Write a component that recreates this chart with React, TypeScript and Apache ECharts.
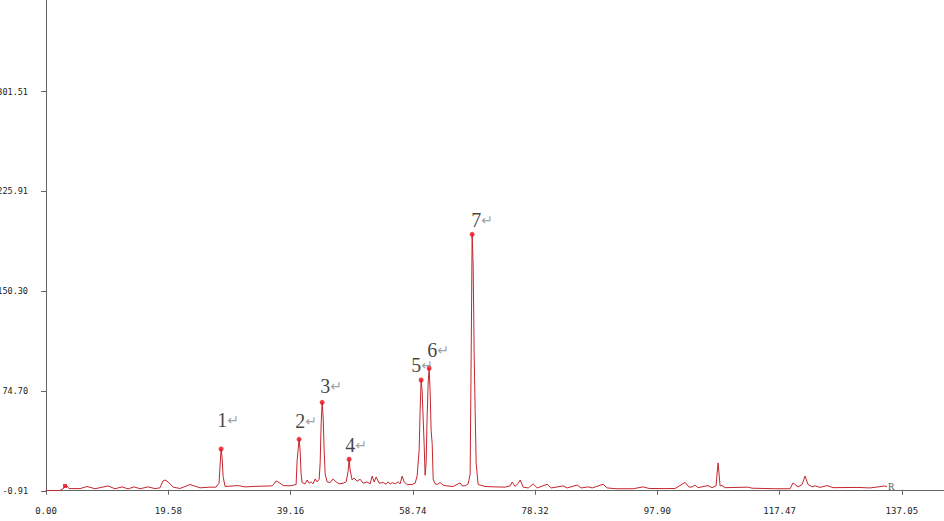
import React, { useEffect, useRef } from "react";
import * as echarts from "echarts";

// Chromatogram trace (retention time, response)
const traceX = [
  0.0, 2.24, 2.88, 3.04, 3.36, 3.68, 5.45, 6.57, 7.85, 9.93, 11.05, 12.18, 13.14, 14.1, 15.06, 16.34, 17.46, 18.26,
  18.74, 19.06, 19.55, 20.35, 21.47, 23.07, 24.67, 26.27, 27.23, 27.71, 27.87, 28.04, 28.2, 28.36, 28.68, 30.76,
  31.88, 33.48, 35.08, 36.25, 36.85, 37.33, 37.97, 39.09, 40.05, 40.21, 40.53, 40.69, 40.85, 41.01, 41.49, 41.81,
  42.13, 42.45, 42.77, 43.1, 43.42, 43.74, 43.9, 44.06, 44.22, 44.38, 44.54, 44.7, 45.02, 45.5, 45.98, 46.46, 46.94,
  47.58, 48.06, 48.38, 48.54, 48.7, 49.02, 49.34, 49.82, 50.3, 50.78, 51.43, 51.91, 52.23, 52.55, 52.87, 53.35,
  53.99, 54.47, 54.79, 55.11, 55.43, 55.91, 56.39, 56.71, 57.03, 57.35, 57.83, 58.63, 59.11, 59.43, 59.75, 59.91,
  60.07, 60.23, 60.55, 60.71, 60.87, 61.03, 61.19, 61.35, 61.51, 61.67, 61.84, 62.0, 62.32, 62.64, 63.12, 63.6,
  64.24, 65.2, 66.0, 66.32, 66.64, 67.12, 67.6, 67.92, 68.08, 68.24, 68.4, 68.56, 68.72, 68.88, 69.2, 70.32, 71.92,
  73.53, 74.33, 74.65, 75.13, 75.61, 75.93, 76.42, 77.22, 78.02, 78.66, 80.26, 80.9, 82.82, 83.46, 85.06, 85.7,
  86.82, 87.46, 89.22, 89.86, 91.3, 94.02, 95.62, 96.58, 99.14, 100.74, 102.34, 102.98, 103.46, 103.94, 104.42,
  106.02, 106.66, 107.3, 107.46, 107.62, 107.78, 107.94, 108.26, 108.74, 112.43, 113.07, 116.75, 119.15, 119.63,
  120.43, 121.07, 121.55, 122.03, 122.67, 123.15, 123.95, 125.07, 126.03, 130.03, 131.95, 134.35, 134.67,
];
const traceY = [
  -0.6, -0.6, 1.4, 2.9, 2.9, 0.9, 0.9, 2.5, 0.8, 2.9, 0.8, 2.2, 0.7, 2.2, 0.8, 2.2, 0.9, 1.5,
  6.7, 7.4, 6.0, 2.0, 1.0, 4.0, 1.5, 2.0, 2.0, 5.0, 18.0, 30.9, 24.0, 10.0, 2.5, 3.2,
  2.2, 2.6, 2.8, 3.0, 6.7, 5.5, 3.2, 3.0, 4.0, 22.0, 38.2, 30.0, 12.0, 5.5, 4.5, 7.4,
  5.0, 6.0, 4.5, 8.2, 6.0, 8.0, 20.0, 50.0, 66.2, 55.0, 30.0, 12.0, 6.0, 5.5, 8.2, 6.0, 4.5,
  5.0, 6.0, 14.0, 23.1, 15.0, 7.5, 8.9, 6.5, 8.0, 5.0, 5.9, 4.5, 10.4, 6.0, 9.7, 5.0,
  5.5, 4.2, 6.0, 4.3, 5.5, 4.5, 6.0, 4.5, 10.4, 6.0, 4.0, 4.0, 5.0, 10.4, 30.0, 60.0,
  83.1, 75.0, 35.0, 11.0, 20.0, 55.0, 80.0, 92.0, 75.0, 45.0, 35.0, 8.0, 4.5, 4.0, 5.5, 3.5,
  2.9, 2.5, 4.5, 5.2, 3.0, 3.0, 4.5, 12.0, 100.0, 193.4, 170.0, 103.6, 60.0, 20.0, 4.0, 2.5, 2.2,
  2.0, 3.0, 5.9, 2.5, 5.0, 7.4, 2.0, 1.4, 4.4, 1.4, 4.2, 1.4, 2.9, 1.4, 3.6, 1.4,
  2.2, 1.4, 4.2, 1.4, 0.8, 0.8, 2.2, 1.0, 0.9, 1.0, 5.6, 2.0, 2.2, 3.5, 1.6,
  3.2, 1.6, 3.0, 12.0, 20.3, 12.0, 3.0, 3.2, 1.6, 2.0, 1.2, 0.8, 0.8, 5.2,
  2.2, 4.0, 10.4, 4.0, 2.3, 3.0, 1.8, 3.2, 1.6, 1.8, 1.4, 2.9, 2.2,
];

const peakNames = ["1", "2", "3", "4", "5", "6", "7"];
const peakX = [28.04, 40.53, 44.22, 48.54, 60.07, 61.35, 68.24];
const peakY = [30.9, 38.2, 66.2, 23.1, 83.1, 92.0, 193.4];
const peakLabelOffsets = [
  [7, -29],
  [7, -18],
  [9, -16],
  [7, -14],
  [1, -15],
  [9, -18],
  [10, -14],
];

const startMarkX = [3.04];
const startMarkY = [2.9];
const endMarkText = "R";

const xTickValues = [0.0, 19.58, 39.16, 58.74, 78.32, 97.9, 117.47, 137.05];
const yTickValues = [-0.91, 74.7, 150.3, 225.91, 301.51];

const X_MIN = 0;
const X_MAX = 143.8;
const Y_MIN = -0.91;
const Y_MAX = 370.8;

export default function App() {
  const ref = useRef<HTMLDivElement>(null);

  useEffect(() => {
    if (!ref.current) return;
    const chart = echarts.init(ref.current, undefined, { renderer: "svg" });

    const trace = traceX.map((x, i) => [x, traceY[i]]);
    const peaks = peakX.map((x, i) => ({
      value: [x, peakY[i]],
      label: {
        show: true,
        position: "inside",
        offset: peakLabelOffsets[i],
        formatter: `{n|${peakNames[i]}}{a|↵}`,
        rich: {
          n: {
            fontFamily: "Liberation Serif",
            fontSize: 20,
            lineHeight: 15,
            color: "#111",
          },
          a: {
            fontFamily: "DejaVu Sans",
            fontSize: 14,
            lineHeight: 15,
            color: "#8a8a8a",
          },
        },
      },
    }));
    const lastIdx = traceX.length - 1;

    const axisFont = {
      fontFamily: "DejaVu Sans Mono",
      fontSize: 8.5,
      color: "#222",
    };

    chart.setOption({
      animation: false,
      backgroundColor: "#ffffff",
      grid: {
        left: 46,
        right: 0,
        top: 0,
        bottom: 30,
        containLabel: false,
        outerBoundsMode: "none",
      },
      xAxis: {
        type: "value",
        min: X_MIN,
        max: X_MAX,
        axisLine: { show: true, lineStyle: { color: "#666", width: 1 } },
        axisTick: {
          show: true,
          length: 5,
          customValues: xTickValues,
          lineStyle: { color: "#666" },
        },
        axisLabel: {
          ...axisFont,
          fontSize: 9,
          margin: 15,
          customValues: xTickValues,
          formatter: (v: number) => v.toFixed(2),
        },
        splitLine: { show: false },
      },
      yAxis: {
        type: "value",
        min: Y_MIN,
        max: Y_MAX,
        axisLine: { show: true, lineStyle: { color: "#666", width: 1 } },
        axisTick: {
          show: true,
          length: 5,
          customValues: yTickValues,
          lineStyle: { color: "#666" },
        },
        axisLabel: {
          ...axisFont,
          margin: 18,
          customValues: yTickValues,
          formatter: (v: number) => v.toFixed(2),
        },
        splitLine: { show: false },
      },
      series: [
        {
          type: "line",
          data: trace,
          symbol: "none",
          lineStyle: { color: "#c4262e", width: 1 },
          z: 2,
        },
        {
          type: "scatter",
          data: peaks,
          symbol: "circle",
          symbolSize: 5,
          itemStyle: { color: "#e8101a" },
          z: 3,
        },
        {
          type: "scatter",
          data: startMarkX.map((x, i) => [x, startMarkY[i]]),
          symbol: "rect",
          symbolSize: [4, 4],
          itemStyle: { color: "#e8101a" },
          z: 3,
        },
        {
          type: "scatter",
          data: [
            {
              value: [traceX[lastIdx], traceY[lastIdx]],
              label: {
                show: true,
                position: "right",
                distance: 1,
                formatter: endMarkText,
                fontFamily: "Liberation Serif",
                fontSize: 10,
                color: "#333",
              },
            },
          ],
          symbolSize: 0,
          z: 3,
        },
      ],
    });

    return () => chart.dispose();
  }, []);

  return (
    <div
      ref={ref}
      style={{ position: "fixed", left: 0, top: 0, width: 944, height: 521, background: "#fff" }}
    />
  );
}
